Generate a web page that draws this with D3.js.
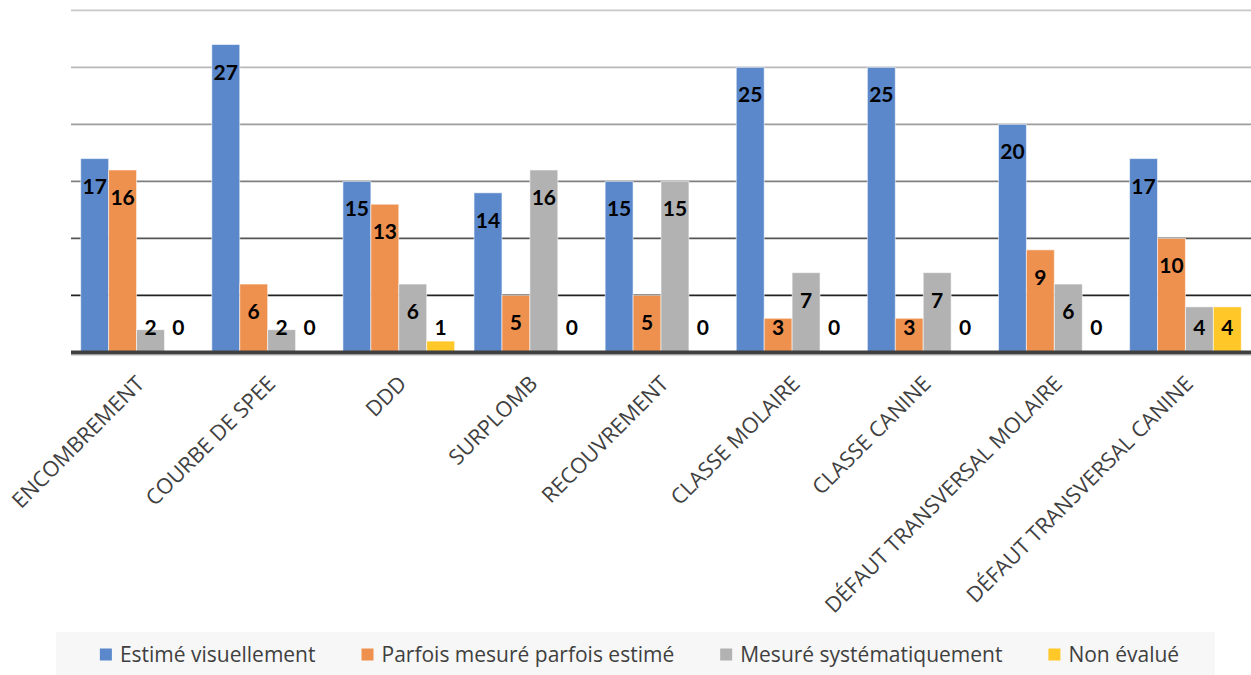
<!DOCTYPE html>
<html>
<head>
<meta charset="utf-8">
<script src="https://cdn.jsdelivr.net/npm/d3@7"></script>
<style>
  html, body { margin: 0; padding: 0; background: #ffffff; }
  svg { display: block; }
</style>
</head>
<body>
<svg id="chart" width="1251" height="675"></svg>
<script>
const categories = ["ENCOMBREMENT", "COURBE DE SPEE", "DDD", "SURPLOMB", "RECOUVREMENT",
  "CLASSE MOLAIRE", "CLASSE CANINE", "DÉFAUT TRANSVERSAL MOLAIRE", "DÉFAUT TRANSVERSAL CANINE"];
const seriesNames = ["Estimé visuellement", "Parfois mesuré parfois estimé", "Mesuré systématiquement", "Non évalué"];
const estimeVisuellement = [17, 27, 15, 14, 15, 25, 25, 20, 17];
const parfoisMesure = [16, 6, 13, 5, 5, 3, 3, 9, 10];
const mesureSystematiquement = [2, 2, 6, 16, 15, 7, 7, 6, 4];
const nonEvalue = [0, 0, 1, 0, 0, 0, 0, 0, 4];
const yTicks = [0, 5, 10, 15, 20, 25, 30];

const seriesValues = [estimeVisuellement, parfoisMesure, mesureSystematiquement, nonEvalue];
const colors = ["#5b88cb", "#ee914f", "#b2b2b2", "#ffc728"];

const svg = d3.select("#chart");
const plot = { left: 71, right: 1251, top: 10.3, bottom: 352.5 };

const x0 = d3.scaleBand().domain(categories).range([plot.left, plot.right])
  .paddingInner(0.148).paddingOuter(0.074);
const x1 = d3.scaleBand().domain(seriesNames).range([0, x0.bandwidth()]);
const y = d3.scaleLinear().domain([0, 30]).range([plot.bottom, plot.top]);

const gridColor = d3.scaleLinear().domain([5, 10, 15, 20, 25, 30])
  .range(["#222222", "#555555", "#7f7f7f", "#9d9d9d", "#b8b8b8", "#c8c8c8"]);

// gridlines
svg.append("g").selectAll("line").data(yTicks.filter(t => t > 0)).join("line")
  .attr("x1", plot.left).attr("x2", plot.right)
  .attr("y1", d => y(d)).attr("y2", d => y(d))
  .attr("stroke", d => gridColor(d)).attr("stroke-width", 1.8);

// bars
const data = [];
categories.forEach((c, i) => {
  seriesNames.forEach((s, j) => data.push({ cat: c, series: s, idx: j, value: seriesValues[j][i] }));
});

svg.append("g").selectAll("rect").data(data.filter(d => d.value > 0)).join("rect")
  .attr("x", d => x0(d.cat) + x1(d.series))
  .attr("y", d => y(d.value))
  .attr("width", x1.bandwidth())
  .attr("height", d => y(0) - y(d.value))
  .attr("fill", d => colors[d.idx])
  .attr("stroke", "rgba(255,255,255,0.55)")
  .attr("stroke-width", 1);

// baseline
svg.append("line").attr("x1", plot.left).attr("x2", plot.right)
  .attr("y1", y(0)).attr("y2", y(0))
  .attr("stroke", "#404040").attr("stroke-width", 4);
svg.append("line").attr("x1", plot.left).attr("x2", plot.right)
  .attr("y1", y(0) + 3).attr("y2", y(0) + 3)
  .attr("stroke", "#d9d9d9").attr("stroke-width", 1);

// data labels
svg.append("g").selectAll("text").data(data).join("text")
  .attr("x", d => x0(d.cat) + x1(d.series) + x1.bandwidth() / 2)
  .attr("y", d => Math.min(y(d.value) + 35, y(0) - 17.5))
  .attr("text-anchor", "middle")
  .attr("font-family", "Lato, 'Open Sans', sans-serif")
  .attr("font-weight", "bold")
  .attr("font-size", 21)
  .attr("fill", "#000000")
  .text(d => d.value);

// category labels
svg.append("g").selectAll("text").data(categories).join("text")
  .attr("transform", d => `translate(${x0(d) + x0.bandwidth() / 2 + 9},385) rotate(-45)`)
  .attr("text-anchor", "end")
  .attr("font-family", "'Open Sans', sans-serif")
  .attr("font-size", 21.5)
  .attr("fill", "#404040")
  .text(d => d);

// legend
const legendBg = { x: 56, y: 632, w: 1159, h: 43 };
svg.append("rect").attr("x", legendBg.x).attr("y", legendBg.y)
  .attr("width", legendBg.w).attr("height", legendBg.h).attr("fill", "#f7f7f7");

const legend = svg.append("g");
const items = legend.selectAll("g").data(seriesNames).join("g");
items.append("rect").attr("width", 12).attr("height", 12).attr("y", -13)
  .attr("fill", (d, i) => colors[i]);
items.append("text").attr("x", 20).attr("y", 0)
  .attr("font-family", "'Open Sans', sans-serif").attr("font-size", 21)
  .attr("fill", "#404040").text(d => d);

let cx = 0;
const gap = 46;
items.each(function () {
  const g = d3.select(this);
  g.attr("transform", `translate(${cx},0)`);
  const w = 20 + g.select("text").node().getComputedTextLength();
  cx += w + gap;
});
const totalW = cx - gap;
legend.attr("transform", `translate(${legendBg.x + legendBg.w / 2 - totalW / 2 + 4},661.5)`);
</script>
</body>
</html>
